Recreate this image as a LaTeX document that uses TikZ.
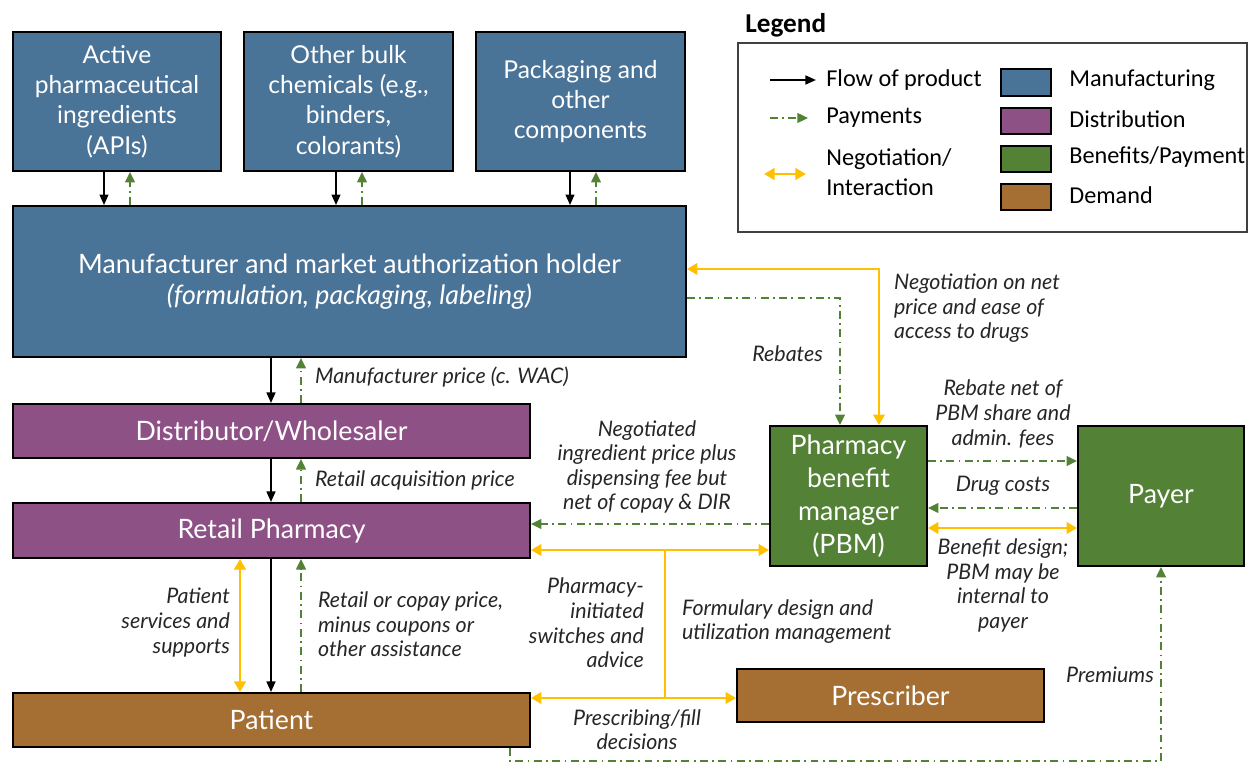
\documentclass[tikz,border=0pt]{standalone}
\usepackage{fontspec}
\setmainfont{Lato}
\newfontfamily\legendfont{Carlito}
\usepackage{xcolor}
\usetikzlibrary{arrows.meta,calc}

\definecolor{mfgblue}{HTML}{4A7398}
\definecolor{distpurple}{HTML}{8E5186}
\definecolor{benefitgreen}{HTML}{538135}
\definecolor{demandbrown}{HTML}{A56E33}
\definecolor{negoyellow}{HTML}{FFC000}
\definecolor{labelgray}{HTML}{262626}

\begin{document}
\begin{tikzpicture}[x=0.02cm, y=-0.02cm,
    box/.style={draw=black, line width=1.1pt, text=white, align=center, inner sep=2pt},
    boxfont/.style={font=\fontsize{14}{17.3}\selectfont},
    bigfont/.style={font=\fontsize{15.2}{17.6}\selectfont},
    lbl/.style={text=labelgray, align=center, inner sep=1pt, font=\fontsize{12.2}{14}\selectfont\itshape},
    flow/.style={draw=black, line width=1.1pt, -{Triangle[length=6pt,width=5pt]}},
    pay/.style={draw=benefitgreen, line width=1.1pt, dash pattern=on 4.5pt off 2.5pt on 1pt off 2.5pt, -{Triangle[length=6pt,width=5.5pt]}},
    nego/.style={draw=negoyellow, line width=1.5pt, {Triangle[length=6pt,width=6.5pt]}-{Triangle[length=6pt,width=6.5pt]}},
    negoline/.style={draw=negoyellow, line width=1.5pt},
    swatch/.style={draw=black, line width=1pt, minimum width=1cm, minimum height=0.53cm, inner sep=0pt},
    legtext/.style={anchor=west, align=left, inner sep=0pt, text=black, font=\legendfont\fontsize{13.8}{17}\selectfont}]

    \useasboundingbox (0,0) rectangle (1249,763);

    % Nodes
    \node[box, boxfont, fill=mfgblue, minimum width=4.16cm, minimum height=2.78cm] (api) at (117,101.5) {Active\\pharmaceutical\\ingredients\\(APIs)};
    \node[box, boxfont, fill=mfgblue, minimum width=4.18cm, minimum height=2.78cm] (bulk) at (348.5,101.5) {Other bulk\\chemicals (e.g.,\\binders,\\colorants)};
    \node[box, boxfont, fill=mfgblue, minimum width=4.18cm, minimum height=2.78cm] (pack) at (580.5,101.5) {Packaging and\\other\\components};
    \node[box, bigfont, fill=mfgblue, minimum width=13.46cm, minimum height=3.02cm] (mfr) at (349.5,281.5) {Manufacturer and market authorization holder\\{\itshape (formulation, packaging, labeling)}};
    \node[box, bigfont, fill=distpurple, minimum width=10.34cm, minimum height=1.08cm] (dist) at (271.5,431) {Distributor/Wholesaler};
    \node[box, bigfont, fill=distpurple, minimum width=10.34cm, minimum height=1.1cm] (retail) at (271.5,530.5) {Retail Pharmacy};
    \node[box, bigfont, fill=demandbrown, minimum width=10.34cm, minimum height=1.08cm] (patient) at (271.5,720) {Patient};
    \node[box, bigfont, fill=demandbrown, minimum width=6.14cm, minimum height=1.06cm] (presc) at (890.5,695.5) {Prescriber};
    \node[box, font=\fontsize{15.2}{18.7}\selectfont, fill=benefitgreen, minimum width=3.14cm, minimum height=2.8cm] (pbm) at (848.5,496) {Pharmacy\\benefit\\manager\\(PBM)};
    \node[box, bigfont, fill=benefitgreen, minimum width=3.32cm, minimum height=2.8cm] (payer) at (1161,496) {Payer};

    % Columns and rows of the connectors
    \coordinate (apiflow) at (104,0);
    \coordinate (apipay) at (130,0);
    \coordinate (bulkflow) at (336,0);
    \coordinate (bulkpay) at (362,0);
    \coordinate (packflow) at (570,0);
    \coordinate (packpay) at (596,0);
    \coordinate (mainflow) at (271,0);
    \coordinate (mainpay) at (301,0);
    \coordinate (servicecol) at (240,0);
    \coordinate (negocol) at (879,0);
    \coordinate (rebatecol) at (840,0);
    \coordinate (premiumcol) at (510,0);
    \coordinate (negorow) at (0,269);
    \coordinate (rebaterow) at (0,298);
    \coordinate (netrow) at (0,461);
    \coordinate (costrow) at (0,508);
    \coordinate (designrow) at (0,528);
    \coordinate (reimbrow) at (0,524);
    \coordinate (switchrow) at (0,550);
    \coordinate (premiumrow) at (0,761);
    \coordinate (splitpt) at (665,550);
    \coordinate (joinpt) at (665,698);

    % Flow of product and payments
    \draw[flow] (api.south -| apiflow) -- (mfr.north -| apiflow);
    \draw[pay] (mfr.north -| apipay) -- (api.south -| apipay);
    \draw[flow] (bulk.south -| bulkflow) -- (mfr.north -| bulkflow);
    \draw[pay] (mfr.north -| bulkpay) -- (bulk.south -| bulkpay);
    \draw[flow] (pack.south -| packflow) -- (mfr.north -| packflow);
    \draw[pay] (mfr.north -| packpay) -- (pack.south -| packpay);
    \draw[flow] (mfr.south -| mainflow) -- (dist.north -| mainflow);
    \draw[pay] (dist.north -| mainpay) -- (mfr.south -| mainpay);
    \draw[flow] (dist.south -| mainflow) -- (retail.north -| mainflow);
    \draw[pay] (retail.north -| mainpay) -- (dist.south -| mainpay);
    \draw[flow] (retail.south -| mainflow) -- (patient.north -| mainflow);
    \draw[pay] (patient.north -| mainpay) -- (retail.south -| mainpay);
    \draw[nego] (retail.south -| servicecol) -- (patient.north -| servicecol);

    % Manufacturer and PBM
    \draw[nego] (mfr.east |- negorow) -| (pbm.north -| negocol);
    \draw[pay] (mfr.east |- rebaterow) -| (pbm.north -| rebatecol);

    % Pharmacy, PBM, prescriber
    \draw[pay] (pbm.west |- reimbrow) -- (retail.east |- reimbrow);
    \draw[nego] (retail.east |- switchrow) -- (pbm.west |- switchrow);
    \draw[negoline] (splitpt) -- (joinpt);
    \draw[nego] (patient.east |- joinpt) -- (presc.west |- joinpt);

    % PBM and payer
    \draw[pay] (pbm.east |- netrow) -- (payer.west |- netrow);
    \draw[pay] (payer.west |- costrow) -- (pbm.east |- costrow);
    \draw[nego] (pbm.east |- designrow) -- (payer.west |- designrow);
    \draw[pay] (patient.south -| premiumcol) |- (payer.south |- premiumrow) -- (payer.south);

    % Labels
    \node[lbl, anchor=west] (wacnote) at (313,377) {Manufacturer price (c. WAC)};
    \node[lbl, anchor=west] (acqnote) at (313,480) {Retail acquisition price};
    \node[lbl, anchor=east, align=right] (servnote) at (232,622.5) {Patient\\services and\\supports};
    \node[lbl, anchor=west, align=left] (copaynote) at (316,624.5) {Retail or copay price,\\minus coupons or\\other assistance};
    \node[lbl] (ingrnote) at (647,467) {Negotiated\\ingredient price plus\\dispensing fee but\\net of copay \& DIR};
    \node[lbl, anchor=east, align=right] (switchnote) at (646,623) {Pharmacy-\\initiated\\switches and\\advice};
    \node[lbl, anchor=west, align=left] (formnote) at (680,621.5) {Formulary design and\\utilization management};
    \node[lbl] (fillnote) at (637,729.5) {Prescribing/fill\\decisions};
    \node[lbl, anchor=east] (rebnote) at (825,354) {Rebates};
    \node[lbl, anchor=west, align=left] (netnote) at (892,308.5) {Negotiation on net\\price and ease of\\access to drugs};
    \node[lbl] (sharenote) at (1003,414) {Rebate net of\\PBM share and\\admin. fees};
    \node[lbl] (costnote) at (1003,486) {Drug costs};
    \node[lbl] (designnote) at (1003,585.5) {Benefit design;\\PBM may be\\internal to\\payer};
    \node[lbl, anchor=east] (premnote) at (1156,675) {Premiums};

    % Legend
    \node[anchor=west, inner sep=0pt, font=\legendfont\bfseries\fontsize{15.5}{17}\selectfont] (legendtitle) at (745,25) {Legend};
    \node[draw=black!75, line width=0.8pt, minimum width=10.18cm, minimum height=3.78cm, inner sep=0pt] (legendbox) at (992.5,137.5) {};
    \coordinate (flowkeyA) at (770,80);
    \coordinate (flowkeyB) at (816,80);
    \coordinate (paykeyA) at (770,118);
    \coordinate (paykeyB) at (808,118);
    \coordinate (negokeyA) at (764,174);
    \coordinate (negokeyB) at (806,174);
    \draw[flow] (flowkeyA) -- (flowkeyB);
    \draw[pay] (paykeyA) -- (paykeyB);
    \draw[nego] (negokeyA) -- (negokeyB);
    \node[legtext] (flowkey) at (826,80) {Flow of product};
    \node[legtext] (paykey) at (826,118) {Payments};
    \node[legtext] (negokey) at (826,172) {Negotiation/\\Interaction};
    \node[swatch, fill=mfgblue] (mfgswatch) at (1026,82.5) {};
    \node[swatch, fill=distpurple] (distswatch) at (1026,121) {};
    \node[swatch, fill=benefitgreen] (benswatch) at (1026,159) {};
    \node[swatch, fill=demandbrown] (demswatch) at (1026,197) {};
    \node[legtext] (mfgkey) at (1069,80) {Manufacturing};
    \node[legtext] (distkey) at (1069,119) {Distribution};
    \node[legtext] (benkey) at (1069,157) {Benefits/Payment};
    \node[legtext] (demkey) at (1069,195) {Demand};

\end{tikzpicture}
\end{document}
